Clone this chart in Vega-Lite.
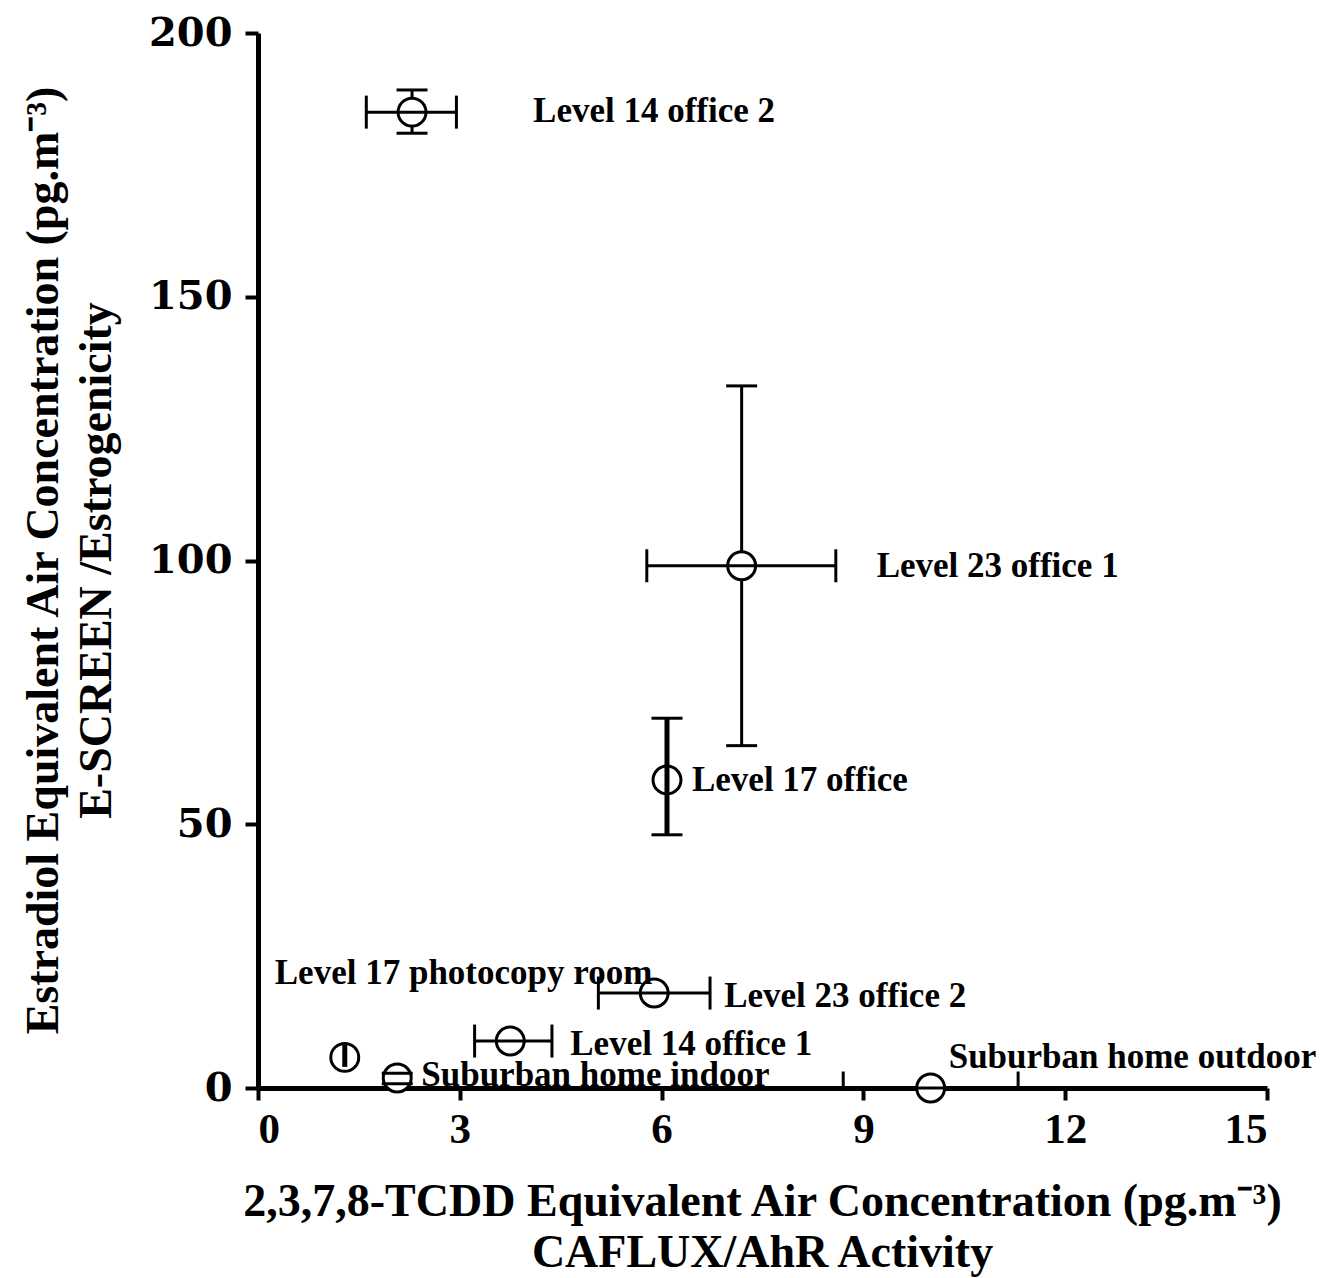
{
  "$schema": "https://vega.github.io/schema/vega-lite/v6.json",
  "autosize": {"type": "none"},
  "width": 1009,
  "height": 1055,
  "padding": {"left": 258, "top": 33, "right": 64, "bottom": 190},
  "background": "white",
  "config": {
    "view": {"stroke": null},
    "text": {"font": "Liberation Serif", "fontWeight": "bold", "fontSize": 35, "color": "black"},
    "axis": {"grid": false, "domainColor": "black", "domainWidth": 5, "tickColor": "black", "tickWidth": 4,
      "labelColor": "black", "titleColor": "black", "titleFont": "Liberation Serif", "titleFontWeight": "bold", "titleFontSize": 46},
    "axisX": {"tickSize": 12, "labelPadding": 8, "labelFont": "Liberation Serif", "labelFontWeight": "bold", "labelFontSize": 43,
      "titleLineHeight": 51, "titleX": 504, "titleY": 127, "titleBaseline": "alphabetic", "titleAlign": "center"},
    "axisY": {"tickSize": 13, "labelPadding": 13, "labelFont": "DejaVu Serif", "labelFontWeight": "bold", "labelFontSize": 40,
      "titleLineHeight": 53, "titleAngle": 270, "titleX": -201, "titleY": 527, "titleBaseline": "alphabetic", "titleAlign": "center"}
  },
  "data": {
    "values": [
      {"site": "Level 14 office 2", "x": 2.29, "y": 185.0, "xlo": 1.61, "xhi": 2.95, "ylo": 181.0, "yhi": 189.2},
      {"site": "Level 23 office 1", "x": 7.19, "y": 99.0, "xlo": 5.78, "xhi": 8.59, "ylo": 64.9, "yhi": 133.1},
      {"site": "Level 17 office", "x": 6.08, "y": 58.4, "xlo": null, "xhi": null, "ylo": 48.0, "yhi": 70.1},
      {"site": "Level 23 office 2", "x": 5.89, "y": 18.0, "xlo": 5.06, "xhi": 6.72, "ylo": null, "yhi": null},
      {"site": "Level 14 office 1", "x": 3.75, "y": 8.9, "xlo": 3.22, "xhi": 4.37, "ylo": null, "yhi": null},
      {"site": "Level 17 photocopy room", "x": 1.29, "y": 5.8, "xlo": null, "xhi": null, "ylo": 4.0, "yhi": 8.2},
      {"site": "Suburban home indoor", "x": 2.07, "y": 1.9, "xlo": null, "xhi": null, "ylo": 0.8, "yhi": 2.8},
      {"site": "Suburban home outdoor", "x": 10.0, "y": 0, "xlo": 8.7, "xhi": 11.3, "ylo": null, "yhi": null}
    ]
  },
  "layer": [
    {
      "transform": [{"filter": "datum.ylo != null"}],
      "mark": {"type": "rule", "color": "black", "strokeWidth": 3},
      "encoding": {
        "x": {"field": "x", "type": "quantitative", "scale": {"domain": [0, 15], "nice": false}},
        "y": {"field": "ylo", "type": "quantitative", "scale": {"domain": [0, 200], "nice": false}},
        "y2": {"field": "yhi"}
      }
    },
    {
      "mark": {"type": "circle", "fill": "white", "fillOpacity": 1, "opacity": 1, "stroke": "black", "strokeWidth": 3, "size": 780, "clip": false},
      "encoding": {
        "x": {"field": "x", "type": "quantitative", "scale": {"domain": [0, 15], "nice": false},
          "axis": {"values": [0, 3, 6, 9, 12, 15], "format": "d", "title": ["2,3,7,8-TCDD Equivalent Air Concentration (pg.m⁻³)", "CAFLUX/AhR Activity"]}},
        "y": {"field": "y", "type": "quantitative", "scale": {"domain": [0, 200], "nice": false},
          "axis": {"values": [0, 50, 100, 150, 200], "format": "d", "title": ["Estradiol Equivalent Air Concentration (pg.m⁻³)", "E-SCREEN /Estrogenicity"]}}
      }
    },
    {
      "transform": [{"filter": "datum.xlo != null"}],
      "mark": {"type": "rule", "color": "black", "strokeWidth": 3},
      "encoding": {
        "x": {"field": "xlo", "type": "quantitative", "scale": {"domain": [0, 15], "nice": false}},
        "x2": {"field": "xhi"},
        "y": {"field": "y", "type": "quantitative", "scale": {"domain": [0, 200], "nice": false}}
      }
    },
    {
      "transform": [{"filter": "datum.ylo != null && datum.xlo == null && datum.site !== 'Suburban home indoor'"}],
      "mark": {"type": "rule", "color": "black", "strokeWidth": 5},
      "encoding": {
        "x": {"field": "x", "type": "quantitative", "scale": {"domain": [0, 15], "nice": false}},
        "y": {"field": "ylo", "type": "quantitative", "scale": {"domain": [0, 200], "nice": false}},
        "y2": {"field": "yhi"}
      }
    },
    {
      "transform": [{"filter": "datum.xlo != null && datum.y > 0"}, {"fold": ["xlo", "xhi"], "as": ["end", "xc"]}],
      "mark": {"type": "tick", "orient": "vertical", "color": "black", "opacity": 1, "size": 33, "thickness": 3},
      "encoding": {
        "x": {"field": "xc", "type": "quantitative", "scale": {"domain": [0, 15], "nice": false}},
        "y": {"field": "y", "type": "quantitative", "scale": {"domain": [0, 200], "nice": false}}
      }
    },
    {
      "transform": [{"filter": "datum.xlo != null && datum.y == 0"}, {"fold": ["xlo", "xhi"], "as": ["end", "xc"]}],
      "mark": {"type": "tick", "orient": "vertical", "color": "black", "opacity": 1, "size": 17, "thickness": 3, "yOffset": -8},
      "encoding": {
        "x": {"field": "xc", "type": "quantitative", "scale": {"domain": [0, 15], "nice": false}},
        "y": {"field": "y", "type": "quantitative", "scale": {"domain": [0, 200], "nice": false}}
      }
    },
    {
      "transform": [{"filter": "datum.ylo != null && datum.site !== 'Level 17 photocopy room'"}, {"fold": ["ylo", "yhi"], "as": ["end", "yc"]}],
      "mark": {"type": "tick", "orient": "horizontal", "color": "black", "opacity": 1, "size": 31, "thickness": 3},
      "encoding": {
        "x": {"field": "x", "type": "quantitative", "scale": {"domain": [0, 15], "nice": false}},
        "y": {"field": "yc", "type": "quantitative", "scale": {"domain": [0, 200], "nice": false}}
      }
    },
    {
      "transform": [{"filter": "datum.site === 'Level 14 office 2'"}],
      "mark": {"type": "text", "align": "left", "baseline": "alphabetic", "dx": 121, "dy": 10},
      "encoding": {
        "x": {"field": "x", "type": "quantitative", "scale": {"domain": [0, 15], "nice": false}},
        "y": {"field": "y", "type": "quantitative", "scale": {"domain": [0, 200], "nice": false}},
        "text": {"field": "site"}
      }
    },
    {
      "transform": [{"filter": "datum.site === 'Level 23 office 1'"}],
      "mark": {"type": "text", "align": "left", "baseline": "alphabetic", "dx": 135, "dy": 11},
      "encoding": {
        "x": {"field": "x", "type": "quantitative", "scale": {"domain": [0, 15], "nice": false}},
        "y": {"field": "y", "type": "quantitative", "scale": {"domain": [0, 200], "nice": false}},
        "text": {"field": "site"}
      }
    },
    {
      "transform": [{"filter": "datum.site === 'Level 17 office'"}],
      "mark": {"type": "text", "align": "left", "baseline": "alphabetic", "dx": 25, "dy": 11},
      "encoding": {
        "x": {"field": "x", "type": "quantitative", "scale": {"domain": [0, 15], "nice": false}},
        "y": {"field": "y", "type": "quantitative", "scale": {"domain": [0, 200], "nice": false}},
        "text": {"field": "site"}
      }
    },
    {
      "transform": [{"filter": "datum.site === 'Level 23 office 2'"}],
      "mark": {"type": "text", "align": "left", "baseline": "alphabetic", "dx": 70, "dy": 14},
      "encoding": {
        "x": {"field": "x", "type": "quantitative", "scale": {"domain": [0, 15], "nice": false}},
        "y": {"field": "y", "type": "quantitative", "scale": {"domain": [0, 200], "nice": false}},
        "text": {"field": "site"}
      }
    },
    {
      "transform": [{"filter": "datum.site === 'Level 14 office 1'"}],
      "mark": {"type": "text", "align": "left", "baseline": "alphabetic", "dx": 60, "dy": 14},
      "encoding": {
        "x": {"field": "x", "type": "quantitative", "scale": {"domain": [0, 15], "nice": false}},
        "y": {"field": "y", "type": "quantitative", "scale": {"domain": [0, 200], "nice": false}},
        "text": {"field": "site"}
      }
    },
    {
      "transform": [{"filter": "datum.site === 'Level 17 photocopy room'"}],
      "mark": {"type": "text", "align": "left", "baseline": "alphabetic", "dx": -70, "dy": -73},
      "encoding": {
        "x": {"field": "x", "type": "quantitative", "scale": {"domain": [0, 15], "nice": false}},
        "y": {"field": "y", "type": "quantitative", "scale": {"domain": [0, 200], "nice": false}},
        "text": {"field": "site"}
      }
    },
    {
      "transform": [{"filter": "datum.site === 'Suburban home indoor'"}],
      "mark": {"type": "text", "align": "left", "baseline": "alphabetic", "dx": 24, "dy": 8},
      "encoding": {
        "x": {"field": "x", "type": "quantitative", "scale": {"domain": [0, 15], "nice": false}},
        "y": {"field": "y", "type": "quantitative", "scale": {"domain": [0, 200], "nice": false}},
        "text": {"field": "site"}
      }
    },
    {
      "transform": [{"filter": "datum.site === 'Suburban home outdoor'"}],
      "mark": {"type": "text", "align": "left", "baseline": "alphabetic", "dx": 18, "dy": -20},
      "encoding": {
        "x": {"field": "x", "type": "quantitative", "scale": {"domain": [0, 15], "nice": false}},
        "y": {"field": "y", "type": "quantitative", "scale": {"domain": [0, 200], "nice": false}},
        "text": {"field": "site"}
      }
    }
  ]
}
